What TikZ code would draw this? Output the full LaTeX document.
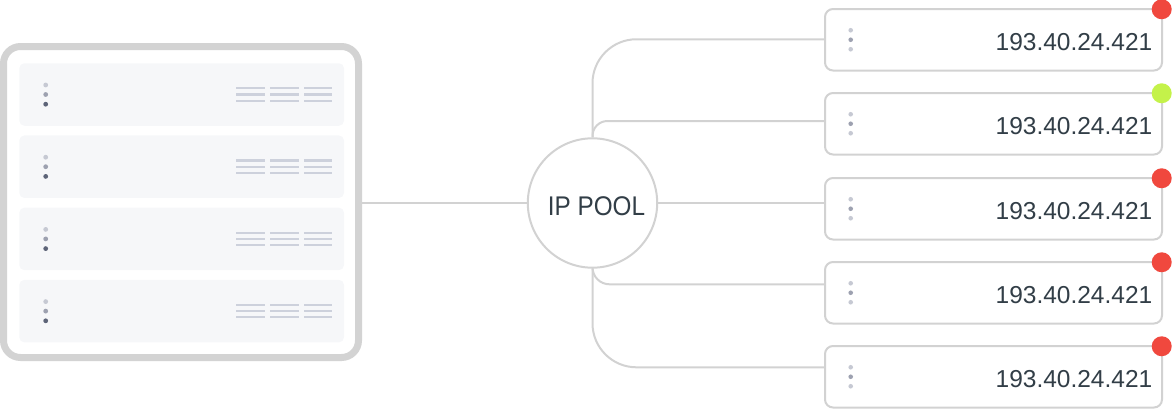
\documentclass[tikz,border=0pt]{standalone}
\usepackage{fontspec}
\setmainfont{Liberation Sans}
\usepackage{graphicx}
\definecolor{wire}{HTML}{D2D2D2}
\definecolor{frame}{HTML}{D3D3D3}
\definecolor{rowfill}{HTML}{F6F7F9}
\definecolor{txt}{HTML}{323E47}
\definecolor{dotlight}{HTML}{C6C9D3}
\definecolor{dotmid}{HTML}{9DA1B0}
\definecolor{dotdark}{HTML}{5D6478}
\definecolor{barcol}{HTML}{CDD1DC}
\definecolor{stred}{HTML}{F0483E}
\definecolor{stgreen}{HTML}{C4F24A}
\begin{document}
\begin{tikzpicture}[x=1pt,y=-1pt,
  wireline/.style={draw=wire,line width=2pt},
  ipbox/.style={draw=wire,line width=2pt,fill=white,rounded corners=8pt,minimum width=337pt,minimum height=61.5pt,inner sep=0pt},
  rowbox/.style={fill=rowfill,rounded corners=5pt,minimum width=324.7pt,minimum height=62.5pt,inner sep=0pt},
  bar/.style={draw=barcol,line width=2.2pt},
  iptext/.style={text=txt,font=\fontsize{24.5}{28}\selectfont,inner sep=0pt,anchor=base east},
  stdot/.style={circle,minimum size=20pt,inner sep=0pt}
]
\useasboundingbox (0,0) rectangle (1172,410);

% server frame
\node[draw=frame,line width=7pt,rounded corners=17pt,minimum width=355pt,minimum height=311pt,inner sep=0pt] (server) at (181,202) {};
\foreach \i/\yc in {1/94.5,2/166.7,3/238.9,4/311.1}{
  \node[rowbox] (row\i) at (181.65,\yc) {};
  \fill[dotlight] (45.7,\yc-9.5) circle (2.4pt);
  \fill[dotmid] (45.7,\yc) circle (2.4pt);
  \fill[dotdark] (45.7,\yc+9.7) circle (2.4pt);
  \foreach \xa/\xb in {236/265,270/299,304/332}{
    \foreach \dy in {-6.2,0,6.2}{
      \draw[bar] (\xa,\yc+\dy) -- (\xb,\yc+\dy);
    }
  }
}

% pool
\node[circle,draw=wire,line width=2pt,fill=white,minimum size=129.4pt,inner sep=0pt] (pool) at (592.5,203) {};
\node[text=txt,font=\fontsize{27}{30}\selectfont,inner sep=0pt,anchor=base] (pooltext) at (596.5,215) {\scalebox{0.9}[1]{IP POOL}};

% ip boxes
\foreach \i/\yc/\col in {1/39.75/stred,2/123.75/stgreen,3/208.75/stred,4/292.75/stred,5/376.75/stred}{
  \node[ipbox] (ip\i) at (993.5,\yc) {};
  \fill[dotlight] (850.7,\yc-9.5) circle (2.3pt);
  \fill[dotmid] (850.7,\yc) circle (2.3pt);
  \fill[dotlight] (850.7,\yc+9.5) circle (2.3pt);
  \node[iptext] (t\i) at (1152.5,\yc+11) {193.40.24.421};
  \node[stdot,fill=\col] (s\i) at (1161.7,\yc-30.5) {};
}

% connectors
\draw[wireline] (pool.west) -- (pool.west -| server.east);
\draw[wireline,rounded corners=44pt] (pool.north) |- ([yshift=0.5pt]ip1.west);
\draw[wireline,rounded corners=15pt] (pool.north) |- ([yshift=2.75pt]ip2.west);
\draw[wireline] (pool.east) -- (pool.east -| ip3.west);
\draw[wireline,rounded corners=17pt] (pool.south) |- ([yshift=8.45pt]ip4.west);
\draw[wireline,rounded corners=44pt] (pool.south) |- ([yshift=9.45pt]ip5.west);
\end{tikzpicture}
\end{document}
